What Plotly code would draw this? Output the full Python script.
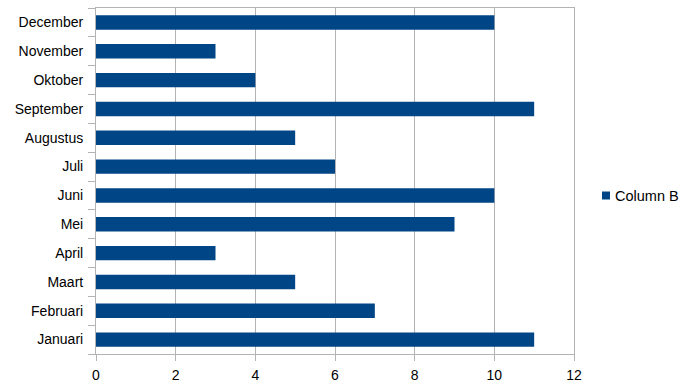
import plotly.graph_objects as go

months = ["Januari", "Februari", "Maart", "April", "Mei", "Juni", "Juli",
          "Augustus", "September", "Oktober", "November", "December"]
values = [11, 7, 5, 3, 9, 10, 6, 5, 11, 4, 3, 10]
series_name = "Column B"
x_ticks = [0, 2, 4, 6, 8, 10, 12]
bar_color = "#004586"

W, H = 693, 390
L, R, T, B = 96, 119, 8, 36

fig = go.Figure()
fig.add_trace(go.Bar(
    y=months, x=values, orientation="h", name=series_name,
    marker=dict(color=bar_color, line=dict(width=0)),
    showlegend=False,
))

# legend drawn manually (paper coordinates)
pw = W - L - R
ph = H - T - B
def px_x(p):
    return (p - L) / pw
def px_y(p):
    return (H - B - p) / ph

fig.add_shape(type="rect", xref="paper", yref="paper",
              x0=px_x(602), x1=px_x(610), y0=px_y(199.5), y1=px_y(191.5),
              fillcolor=bar_color, line=dict(width=0))
fig.add_annotation(xref="paper", yref="paper", x=px_x(613), y=px_y(196),
                   xanchor="left", yanchor="middle", text=series_name,
                   showarrow=False, font=dict(size=14.5, color="black"))

fig.update_layout(
    width=W, height=H,
    margin=dict(l=L, r=R, t=T, b=B),
    paper_bgcolor="white", plot_bgcolor="white",
    font=dict(family="Liberation Sans", size=14, color="black"),
    bargap=0.5,
    showlegend=False,
    xaxis=dict(range=[0, 12], tickvals=x_ticks, showgrid=True,
               gridcolor="#b3b3b3", gridwidth=1, showline=True,
               linecolor="#b3b3b3", mirror=True, ticks="outside",
               ticklen=6, tickcolor="#b3b3b3", zeroline=False,
               automargin=False, ticklabelstandoff=2),
    yaxis=dict(categoryorder="array", categoryarray=months,
               showline=True, linecolor="#b3b3b3", mirror=True,
               ticks="outside", tickson="boundaries", ticklen=7,
               tickcolor="#b3b3b3", showgrid=False, automargin=False,
               ticklabelstandoff=9),
)

fig.write_html("out.html", config={"displayModeBar": False},
               post_script="document.body.style.margin='0';document.body.style.overflow='hidden';")
